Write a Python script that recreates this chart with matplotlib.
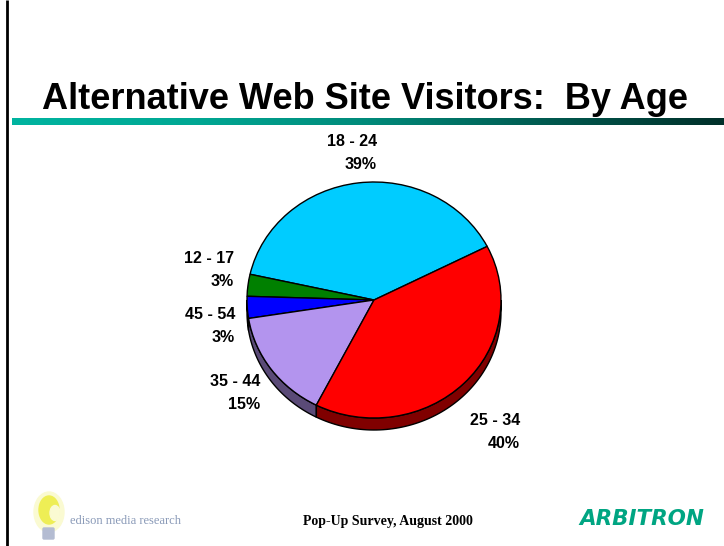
import numpy as np
import matplotlib
matplotlib.use("Agg")
import matplotlib.pyplot as plt
from matplotlib.colors import LinearSegmentedColormap, to_rgb
from matplotlib.patches import Polygon, Ellipse, FancyBboxPatch

# Survey shares by age group (percent), listed counter-clockwise from the 18 - 24 slice
categories = ["18 - 24", "12 - 17", "45 - 54", "35 - 44", "25 - 34"]
shares = [39, 3, 3, 15, 40]
slice_colors = ["#00ccff", "#008000", "#0000ff", "#b394ee", "#ff0000"]

title = "Alternative Web Site Visitors:  By Age"
footer = "Pop-Up Survey, August 2000"

W, H = 724, 546
fig = plt.figure(figsize=(W / 100, H / 100), dpi=100)
fig.patch.set_facecolor("white")

# Page layer in pixel units (y grows downward)
bg = fig.add_axes([0, 0, 1, 1])
bg.set_xlim(0, W)
bg.set_ylim(H, 0)
bg.axis("off")

# left page rule
bg.plot([7, 7], [0, H], color="black", lw=2, solid_capstyle="butt")

# title
bg.text(42, 109, title, fontsize=26, fontweight="bold",
        family="Liberation Sans", ha="left", va="baseline", color="black")

# gradient underline
grad = LinearSegmentedColormap.from_list(
    "teal", ["#00b4a0", "#00a894", "#008a7a", "#005a50", "#00302a"])
bar = np.linspace(0, 1, 512).reshape(1, -1)
bg.imshow(bar, cmap=grad, extent=(12, W, 125, 118), aspect="auto",
          interpolation="bilinear", zorder=2)
bg.set_xlim(0, W)
bg.set_ylim(H, 0)

# footer
bg.text(388, 521, footer, fontsize=10, fontweight="bold",
        family="Liberation Serif", ha="center", va="center")
bg.text(642, 519, "ARBITRON", fontsize=15.5, fontweight="bold", style="italic",
        family="DejaVu Sans", color="#00a582", ha="center", va="center")

# bulb logo
bg.add_patch(Ellipse((49, 512), 30, 40, color="#fafad2", zorder=1))
bg.add_patch(Ellipse((49, 510), 20, 28, color="#eeee55", zorder=2))
bg.add_patch(Ellipse((55, 513), 10, 15, color="#fafad2", zorder=3))
bg.add_patch(FancyBboxPatch((44, 529), 9, 9, boxstyle="round,pad=1",
                            color="#b4bcd2", zorder=2))
bg.text(70, 521, "edison media research", fontsize=9, family="Liberation Serif",
        color="#7d8fb0", ha="left", va="center", alpha=0.9)

# Pie: top face ellipse centre and radii in pixels
cx, cy, rx, ry, depth = 374, 300, 127, 118, 12
ax = fig.add_axes([(cx - rx) / W, (H - (cy + ry)) / H, 2 * rx / W, 2 * ry / H])
wedges, _ = ax.pie(shares, colors=slice_colors, startangle=27,
                   counterclock=True,
                   wedgeprops=dict(edgecolor="black", linewidth=1))
ax.set_aspect("auto")
ax.set_xlim(-1, 1)
ax.set_ylim(-1, 1)
ax.axis("off")

d = depth / ry
for w, col in zip(wedges, slice_colors):
    t1, t2 = w.theta1, w.theta2
    for lo, hi in [(180, 360), (540, 720)]:
        a, b = max(t1, lo), min(t2, hi)
        if b > a:
            t = np.radians(np.linspace(a, b, 80))
            top = np.column_stack([np.cos(t), np.sin(t)])
            bot = np.column_stack([np.cos(t[::-1]), np.sin(t[::-1]) - d])
            dark = tuple(c * 0.5 for c in to_rgb(col))
            ax.add_patch(Polygon(np.vstack([top, bot]), closed=True,
                                 facecolor=dark, edgecolor="black", lw=1,
                                 zorder=0.5, clip_on=False))
for w in wedges:
    w.set_zorder(1)

# slice labels (right edge x, centre y of the two-line block, in pixels)
label_pos = {"18 - 24": (377, 153), "12 - 17": (234, 270), "45 - 54": (235, 326),
             "35 - 44": (260, 393), "25 - 34": (520, 432)}
for cat, val in zip(categories, shares):
    x, y = label_pos[cat]
    bg.text(x, y, f"{cat}\n{val}%", fontsize=11.5, fontweight="bold",
            family="Liberation Sans", ha="right", va="center",
            multialignment="right", linespacing=1.6)

fig.savefig("out.png", dpi=100)
